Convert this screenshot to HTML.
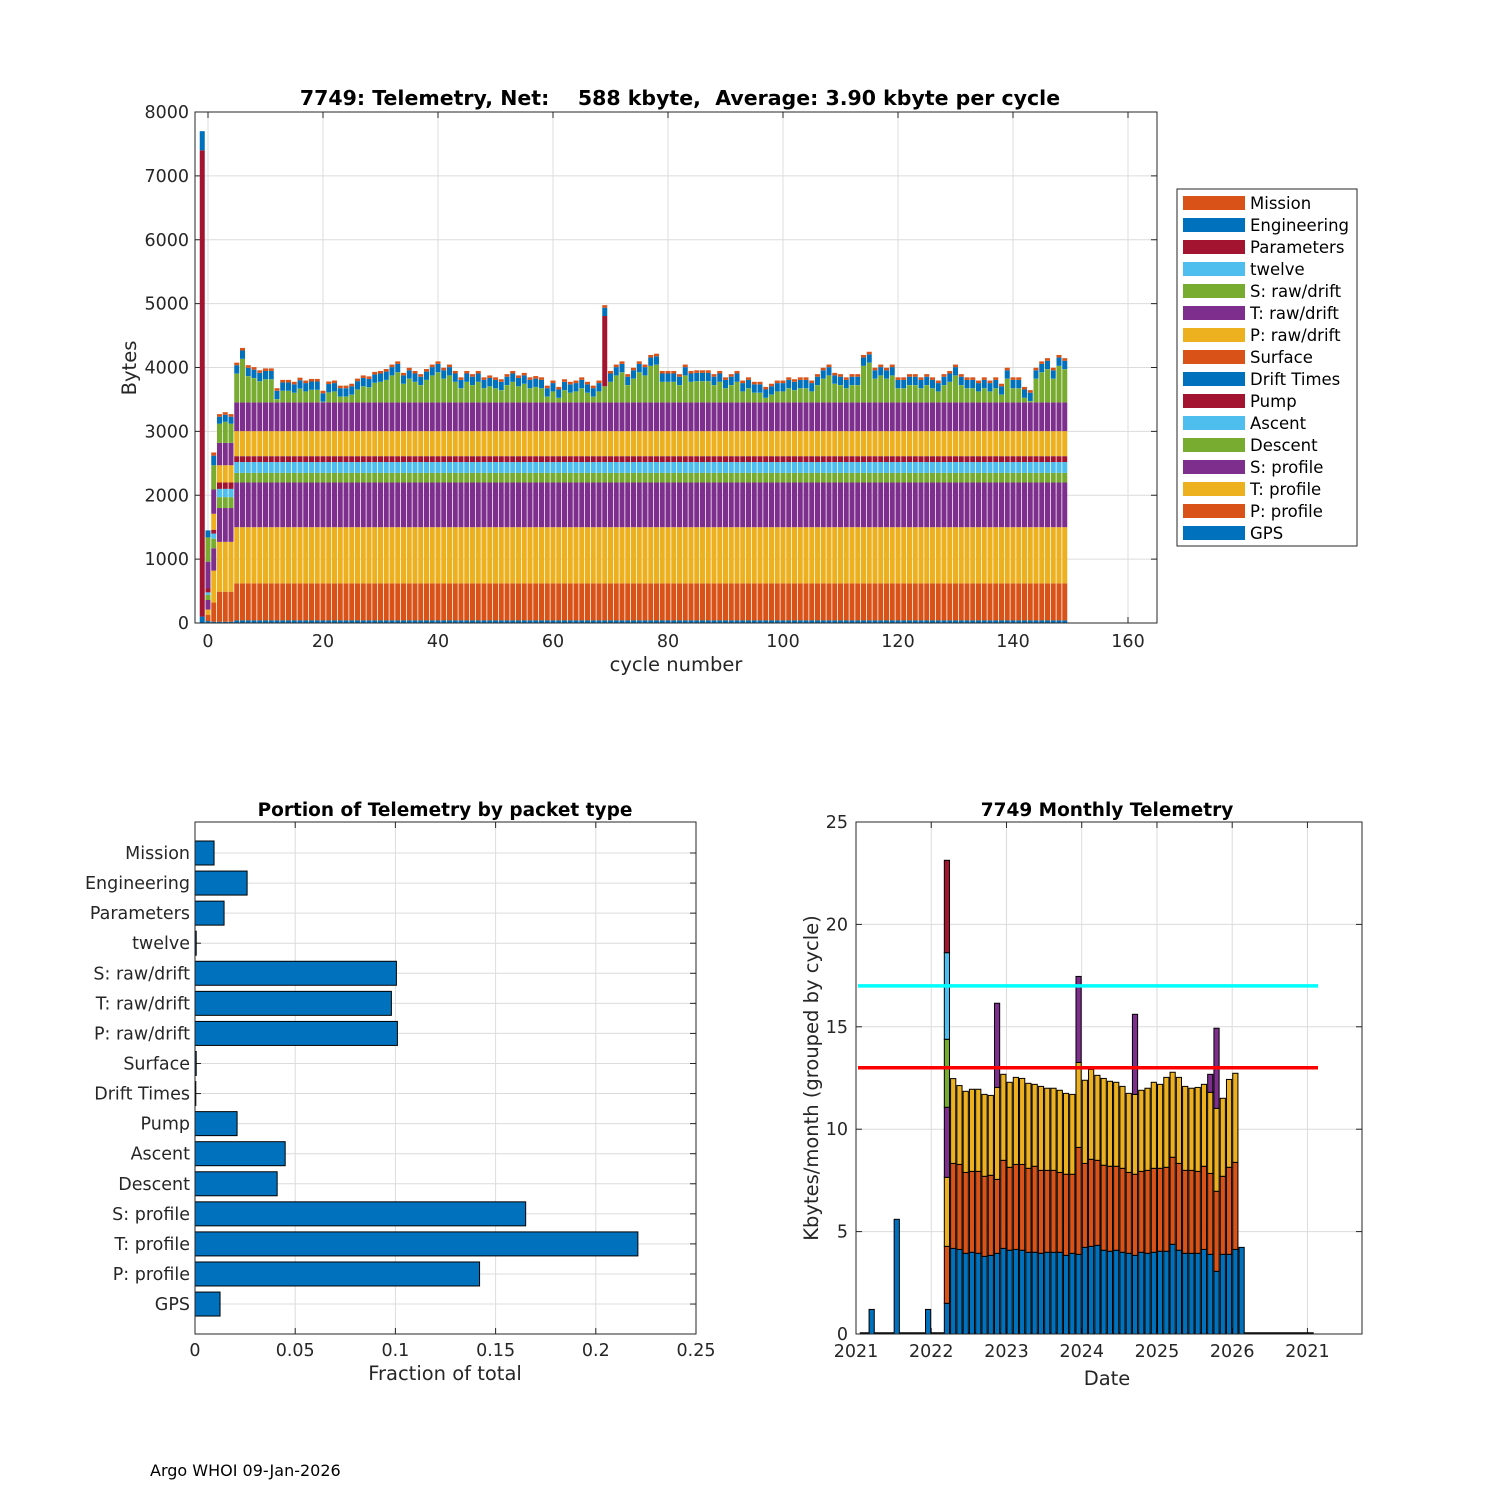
<!DOCTYPE html>
<html><head><meta charset="utf-8">
<style>
html,body{margin:0;padding:0;background:#fff;}
svg{display:block;font-family:"DejaVu Sans","Liberation Sans",sans-serif;}
</style></head>
<body>
<svg id="fig" width="1500" height="1500" viewBox="0 0 1500 1500" xmlns="http://www.w3.org/2000/svg">
<rect x="0" y="0" width="1500" height="1500" fill="#fff"/>
<g id="top"></g>
<g id="bl"></g>
<g id="br"></g>
<text x="150" y="1476" font-size="16">Argo WHOI 09-Jan-2026</text>
</svg>
<script>
// ---------- TOP CHART DATA ----------
const layerNames = ["GPS","P: profile","T: profile","S: profile","Descent","Ascent","Pump","Drift Times","Surface","P: raw/drift","T: raw/drift","S: raw/drift","twelve","Parameters","Engineering","Mission"];
const layerColors = ["#0072BD","#D95319","#EDB120","#7E2F8E","#77AC30","#4DBEEE","#A2142F","#0072BD","#D95319","#EDB120","#7E2F8E","#77AC30","#4DBEEE","#A2142F","#0072BD","#D95319"];
const typicalLayer = [40,580,880,700,150,170,90,2,2,390,450,0,2,0,130,40];
const earlyCycles = [-1,0,1,2,3,4];
const earlyLayers = [
 [100,0,0,0,0,0,0,0,0,0,0,0,0,7300,300,0],
 [30,100,80,150,80,40,60,0,0,0,420,380,0,0,110,0],
 [20,300,500,350,150,80,60,0,0,250,380,380,0,0,150,50],
 [20,470,780,530,170,130,100,0,0,270,350,300,0,0,110,40],
 [20,470,780,530,170,130,100,0,0,270,350,330,0,0,110,40],
 [20,470,780,530,170,130,100,0,0,270,350,300,0,0,110,40]
];
const firstRegularCycle = 5;
const sRawByCycle = [450,680,410,380,330,360,360,50,180,180,150,215,170,195,195,10,155,170,90,90,120,200,250,235,305,
 320,350,420,470,290,370,320,270,350,420,
 470,370,420,320,220,320,270,320,220,250,
 220,190,270,320,250,290,220,240,220,90,
 170,70,190,150,170,220,150,90,170,250,
 320,420,470,270,370,470,420,570,590,320,
 320,320,270,420,320,330,330,330,270,320,
 220,270,320,170,220,150,150,70,120,170,
 170,220,190,220,220,170,270,370,420,290,
 270,220,270,270,570,620,370,420,370,420,
 220,220,270,270,220,270,220,170,270,320,
 420,270,220,220,170,220,170,220,120,370,
 220,220,70,20,370,470,520,370,570,520];
const paramSpikeCycles = [69];
const paramSpikeValues = [1100];
const topYTicks = [0,1000,2000,3000,4000,5000,6000,7000,8000];
const topXTicks = [0,20,40,60,80,100,120,140,160];

// ---------- BOTTOM-LEFT DATA ----------
const packetTypes = ["Mission","Engineering","Parameters","twelve","S: raw/drift","T: raw/drift","P: raw/drift","Surface","Drift Times","Pump","Ascent","Descent","S: profile","T: profile","P: profile","GPS"];
const packetFractions = [0.0095,0.026,0.0145,0.0006,0.1005,0.098,0.101,0.0006,0.0004,0.021,0.045,0.041,0.165,0.221,0.142,0.0125];
const fracTicks = [0,0.05,0.1,0.15,0.2,0.25];
const fracTickLabels = ["0","0.05","0.1","0.15","0.2","0.25"];

// ---------- BOTTOM-RIGHT DATA ----------
const earlyMonths = [2,6,11];
const earlyMonthValues = [1.2,5.6,1.2];
const spikeMonth = 14;
const spikeMonthTops = [1.5,4.28,7.65,11.07,14.39,18.62,23.13];
const spikeMonthColors = ["#0072BD","#D95319","#EDB120","#7E2F8E","#77AC30","#4DBEEE","#A2142F"];
const monthStart = 15;
const blueTop = [4.18,4.13,3.94,3.99,3.94,3.79,3.84,3.94,4.18,4.09,4.13,4.09,3.99,3.99,3.94,3.99,3.99,3.99,3.84,3.94,3.89,4.23,4.28,4.33,4.09,4.04,4.09,3.99,3.94,3.84,3.99,3.94,3.99,4.04,4.04,4.38,4.09,3.94,3.94,3.94,4.13,3.89,3.06,3.89,3.89,4.13,4.23];
const orangeTop = [8.33,8.28,7.89,7.94,7.94,7.70,7.75,7.55,8.48,8.14,8.28,8.28,8.09,8.19,7.99,7.99,7.99,7.89,7.80,7.80,9.11,8.33,8.53,8.48,8.24,8.19,8.19,8.09,7.89,7.80,7.94,7.99,8.09,8.09,8.14,8.63,8.33,7.99,7.99,7.94,8.19,7.84,6.97,7.70,8.14,8.38,0];
const yellowTop = [12.47,12.13,11.85,11.95,11.95,11.70,11.65,12.04,12.68,12.29,12.53,12.48,12.24,12.19,12.09,12.0,12.0,11.9,11.75,11.70,13.26,12.39,12.92,12.63,12.48,12.34,12.29,12.09,11.75,11.70,11.9,12.0,12.29,12.19,12.53,12.78,12.53,12.09,12.0,12.04,12.19,11.8,11.02,11.51,12.43,12.73,0];
const purpleTop = [0,0,0,0,0,0,0,16.15,0,0,0,0,0,0,0,0,0,0,0,0,17.46,0,0,0,0,0,0,0,0,15.61,0,0,0,0,0,0,0,0,0,0,0,12.68,14.93,0,0,0,0];
const cyanLevel = 17;
const redLevel = 13;
const monthYTicks = [0,5,10,15,20,25];
const yearTicks = [0,12,24,36,48,60,72];
const yearTickLabels = ["2021","2022","2023","2024","2025","2026","2021"];

// ---------- helpers ----------
const NS = "http://www.w3.org/2000/svg";
function mk(parent, tag, attrs){ const e=document.createElementNS(NS,tag); for(const k in attrs) e.setAttribute(k,attrs[k]); parent.appendChild(e); return e; }
function txt(parent, x, y, s, size, anchor, extra){ const t=mk(parent,"text",Object.assign({x:x,y:y,"font-size":size,"text-anchor":anchor||"start",fill:"#262626"},extra||{})); t.textContent=s; return t; }

// ---------- TOP CHART ----------
(function(){
 const g=document.getElementById("top");
 const L=195,R=1157,T=112,B=623;
 const xs=c=>208+c*5.75, ys=v=>B-v*(B-T)/8000;
 for(const v of topYTicks){ const y=ys(v);
   const gl=mk(g,"line",{x1:L,x2:R,y1:y,y2:y,stroke:"#dcdcdc","stroke-width":1});
   
   
   const tl=txt(g,L-6,y+6,String(v),17.5,"end");
   
   
   mk(g,"line",{x1:L,x2:L+6,y1:y,y2:y,stroke:"#262626"}); mk(g,"line",{x1:R,x2:R-6,y1:y,y2:y,stroke:"#262626"});
 }
 for(const v of topXTicks){ const x=xs(v);
   const gl=mk(g,"line",{x1:x,x2:x,y1:T,y2:B,stroke:"#dcdcdc","stroke-width":1});
   
   
   const tl=txt(g,x,B+24,String(v),17.5,"middle");
   
   
   mk(g,"line",{x1:x,x2:x,y1:B,y2:B-6,stroke:"#262626"}); mk(g,"line",{x1:x,x2:x,y1:T,y2:T+6,stroke:"#262626"});
 }
 function drawStack(c, vals){
   let acc=0; const x=xs(c)-2.5;
   for(let i=0;i<vals.length;i++){ const v=vals[i]; if(v<=0) continue;
     const r=mk(g,"rect",{x:x,y:ys(acc+v),width:5,height:Math.max(0,ys(acc)-ys(acc+v)),fill:layerColors[i]});
     
     
     acc+=v; }
 }
 earlyCycles.forEach((c,i)=>drawStack(c,earlyLayers[i]));
 sRawByCycle.forEach((s,i)=>{ const c=firstRegularCycle+i; const vals=typicalLayer.slice(); vals[11]=s;
   const k=paramSpikeCycles.indexOf(c); if(k>=0) vals[13]=paramSpikeValues[k];
   drawStack(c,vals); });
 const box=mk(g,"rect",{x:L,y:T,width:R-L,height:B-T,fill:"none",stroke:"#262626","stroke-width":1});
 
 
 const ti=txt(g,680,105,"7749: Telemetry, Net:    588 kbyte,  Average: 3.90 kbyte per cycle",20.5,"middle",{"font-weight":"bold",fill:"#000"});
 ti.style.whiteSpace="pre";
 
 
 const xl=txt(g,676,671,"cycle number",19.5,"middle");
 
 
 const yl=txt(g,0,0,"Bytes",19.5,"middle",{transform:"translate(136,368) rotate(-90)"});
 
 
 const lg=mk(g,"g",{});
 
 
 mk(lg,"rect",{x:1177,y:189,width:180,height:357,fill:"#fff",stroke:"#262626"});
 for(let j=0;j<16;j++){ const i=15-j; const y=203+j*22;
   const sw=mk(lg,"rect",{x:1183,y:y-7,width:62,height:14,fill:layerColors[i]});
   
   
   const t=txt(lg,1250,y+6,layerNames[i],16.5,"start",{fill:"#000"});
   
   
 }
})();

// ---------- BOTTOM-LEFT ----------
(function(){
 const g=document.getElementById("bl");
 const L=195,R=696,T=822,B=1334;
 const xs=v=>L+v*(R-L)/0.25, yc=i=>853+i*30.07;
 fracTicks.forEach((v,i)=>{ const x=xs(v);
   const gl=mk(g,"line",{x1:x,x2:x,y1:T,y2:B,stroke:"#dcdcdc"});
   
   
   mk(g,"line",{x1:x,x2:x,y1:B,y2:B-6,stroke:"#262626"}); mk(g,"line",{x1:x,x2:x,y1:T,y2:T+6,stroke:"#262626"});
   const tl=txt(g,x,B+22,fracTickLabels[i],17.5,"middle");
   
   
 });
 packetTypes.forEach((n,i)=>{ const y=yc(i);
   const gl=mk(g,"line",{x1:L,x2:R,y1:y,y2:y,stroke:"#dcdcdc"});
   
   
   mk(g,"line",{x1:L,x2:L+6,y1:y,y2:y,stroke:"#262626"}); mk(g,"line",{x1:R,x2:R-6,y1:y,y2:y,stroke:"#262626"});
   const tl=txt(g,L-5,y+6,n,17.5,"end");
   
   
 });
 packetFractions.forEach((v,i)=>{
   const b=mk(g,"rect",{x:L,y:yc(i)-12,width:xs(v)-L,height:24,fill:"#0072BD",stroke:"#000","stroke-width":1});
   
   
 });
 const box=mk(g,"rect",{x:L,y:T,width:R-L,height:B-T,fill:"none",stroke:"#262626"});
 
 
 const ti=txt(g,445,816,"Portion of Telemetry by packet type",18.5,"middle",{"font-weight":"bold",fill:"#000"});
 
 
 const xl=txt(g,445,1380,"Fraction of total",19.5,"middle");
 
 
})();

// ---------- BOTTOM-RIGHT ----------
(function(){
 const g=document.getElementById("br");
 const L=856,R=1362,T=822,B=1334;
 const xs=m=>L+m*6.27, ys=v=>B-v*(B-T)/25;
 monthYTicks.forEach(v=>{ const y=ys(v);
   const gl=mk(g,"line",{x1:L,x2:R,y1:y,y2:y,stroke:"#dcdcdc"});
   
   
   mk(g,"line",{x1:L,x2:L+6,y1:y,y2:y,stroke:"#262626"}); mk(g,"line",{x1:R,x2:R-6,y1:y,y2:y,stroke:"#262626"});
   const tl=txt(g,L-8,y+6,String(v),17.5,"end");
   
   
 });
 yearTicks.forEach((m,i)=>{ const x=xs(m);
   const gl=mk(g,"line",{x1:x,x2:x,y1:T,y2:B,stroke:"#dcdcdc"});
   
   
   mk(g,"line",{x1:x,x2:x,y1:B,y2:B-6,stroke:"#262626"}); mk(g,"line",{x1:x,x2:x,y1:T,y2:T+6,stroke:"#262626"});
   const tl=txt(g,x,B+23,yearTickLabels[i],17.5,"middle");
   
   
 });
 const base=mk(g,"line",{x1:xs(0.6),x2:xs(73),y1:B-1,y2:B-1,stroke:"#000","stroke-width":1.5});
 
 
 function seg(m,v0,v1,col){ const r=mk(g,"rect",{x:xs(m+0.5)-2.6,y:ys(v1),width:5.2,height:ys(v0)-ys(v1),fill:col,stroke:"#000","stroke-width":1}); return r; }
 earlyMonths.forEach((m,i)=>{ const r=seg(m,0,earlyMonthValues[i],"#0072BD");
   
    });
 let prev=0;
 spikeMonthTops.forEach((v,i)=>{ const r=seg(spikeMonth,prev,v,spikeMonthColors[i]); prev=v;
   
    });
 blueTop.forEach((b,i)=>{ const m=monthStart+i;
   const r1=seg(m,0,b,"#0072BD");
   
   
   if(orangeTop[i]>b){ const r2=seg(m,b,orangeTop[i],"#D95319");
     
      }
   if(yellowTop[i]>orangeTop[i]){ const r3=seg(m,orangeTop[i],yellowTop[i],"#EDB120");
     
      }
   if(purpleTop[i]>yellowTop[i]){ const r4=seg(m,yellowTop[i],purpleTop[i],"#7E2F8E");
     
      }
 });
 const cy=mk(g,"line",{x1:858,x2:1318,y1:ys(cyanLevel),y2:ys(cyanLevel),stroke:"#00FFFF","stroke-width":3.5});
 
 
 const rd=mk(g,"line",{x1:858,x2:1318,y1:ys(redLevel),y2:ys(redLevel),stroke:"#FF0000","stroke-width":3.5});
 
 
 const box=mk(g,"rect",{x:L,y:T,width:R-L,height:B-T,fill:"none",stroke:"#262626"});
 
 
 const ti=txt(g,1107,816,"7749 Monthly Telemetry",18.5,"middle",{"font-weight":"bold",fill:"#000"});
 
 
 const xl=txt(g,1107,1385,"Date",19.5,"middle");
 
 
 const yl=txt(g,0,0,"Kbytes/month (grouped by cycle)",19.5,"middle",{transform:"translate(818,1078) rotate(-90)"});
 
 
})();
</script>
</body></html>
